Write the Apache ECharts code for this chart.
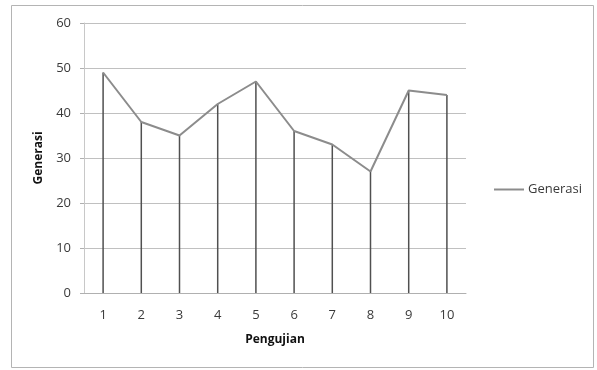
<!DOCTYPE html>
<html><head><meta charset="utf-8">
<script src="https://cdn.jsdelivr.net/npm/echarts@6/dist/echarts.min.js"></script>
<style>html,body{margin:0;padding:0;background:#fff}#c{width:597px;height:370px}</style>
</head><body><div id="c"></div>
<script>
const categories = ['1','2','3','4','5','6','7','8','9','10'];
const generasi = [49, 38, 35, 42, 47, 36, 33, 27, 45, 44];
const seriesName = 'Generasi';
const xTitle = 'Pengujian';
const yTitle = 'Generasi';

const chart = echarts.init(document.getElementById('c'), null, {renderer:'canvas'});
const font = '"Open Sans", "Liberation Sans", sans-serif';
chart.setOption({
  animation: false,
  backgroundColor: '#fff',
  graphic: [{type:'rect', shape:{x:11.5,y:5.5,width:582,height:362}, style:{fill:'none', stroke:'#b4b4b4', lineWidth:1}, silent:true}],
  grid: {left:84, right:131, top:23, bottom:77},
  legend: {
    data:[{name:seriesName, icon:'rect'}],
    left: 489, top: 178, itemWidth: 30, itemHeight: 2, itemGap: 4,
    textStyle:{fontFamily:font, fontSize:13, color:'#3a3a3a', padding:[0,0,0,-1]}
  },
  xAxis: {
    type:'category', data:categories, boundaryGap:true,
    name:xTitle, nameLocation:'middle', nameGap:41,
    nameTextStyle:{fontFamily:font, fontSize:12, fontWeight:'bold', color:'#111'},
    axisLine:{lineStyle:{color:'#b0b0b0', width:1}},
    axisTick:{show:false},
    axisLabel:{fontFamily:font, fontSize:13, color:'#3a3a3a', margin:16}
  },
  yAxis: {
    type:'value', min:0, max:60, interval:10,
    name:yTitle, nameLocation:'middle', nameGap:39,
    nameTextStyle:{fontFamily:font, fontSize:12, fontWeight:'bold', color:'#111'},
    axisLine:{show:true, lineStyle:{color:'#c8c8c8'}},
    axisTick:{show:true, length:4, lineStyle:{color:'#b0b0b0'}},
    axisLabel:{fontFamily:font, fontSize:13, color:'#3a3a3a', margin:13},
    splitLine:{lineStyle:{color:'#c0c0c0', width:1}}
  },
  series: [
    {type:'bar', name:'drop', data:generasi, barWidth:1.5, itemStyle:{color:'#505050'}, silent:true, z:2},
    {type:'line', name:seriesName, data:generasi, symbol:'none', z:3,
     lineStyle:{color:'#8c8c8c', width:2}, itemStyle:{color:'#8c8c8c'}}
  ]
});
</script></body></html>
